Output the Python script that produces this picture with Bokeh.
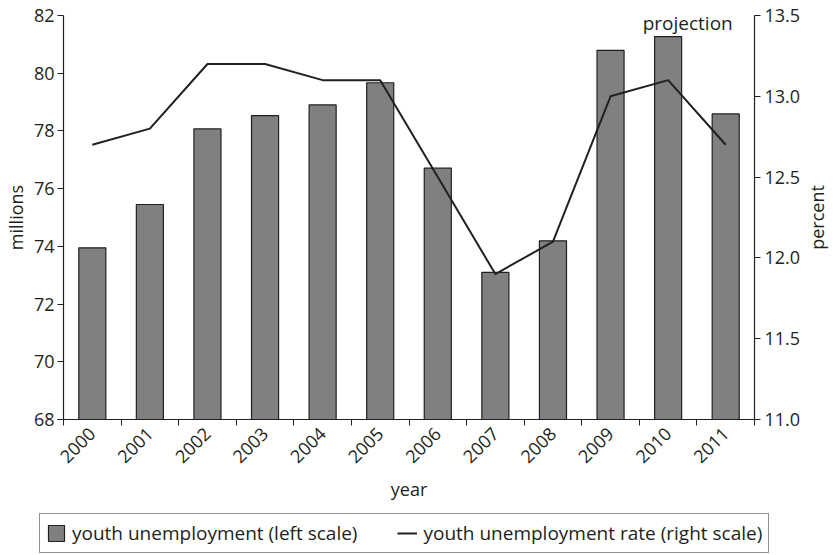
import numpy as np
from bokeh.plotting import figure
from bokeh.layouts import column, row
from bokeh.models import (Range1d, LinearAxis, FixedTicker, Legend, LegendItem,
                          Label, NumeralTickFormatter, ColumnDataSource)
from bokeh.embed import file_html
from bokeh.resources import INLINE

years = ["2000", "2001", "2002", "2003", "2004", "2005",
         "2006", "2007", "2008", "2009", "2010", "2011"]
youth_unemployment_millions = [73.95, 75.45, 78.07, 78.53, 78.9, 79.67,
                               76.71, 73.1, 74.19, 80.79, 81.27, 78.59]
youth_unemployment_rate_pct = [12.7, 12.8, 13.2, 13.2, 13.1, 13.1,
                               12.5, 11.9, 12.1, 13.0, 13.1, 12.7]
left_ticks = [68, 70, 72, 74, 76, 78, 80, 82]
right_ticks = [11.0, 11.5, 12.0, 12.5, 13.0, 13.5]

FONT = "Open Sans"
INK = "#231f20"
BAR = "#808080"
FS = "18px"
FS_BIG = "19px"

n = len(years)
centers = np.arange(n) + 0.5
src = ColumnDataSource(dict(x=centers, millions=youth_unemployment_millions,
                            rate=youth_unemployment_rate_pct, year=years))

y_left = Range1d(left_ticks[0], left_ticks[-1])

# ---------------- main chart ----------------
p = figure(frame_width=691, frame_height=404, output_backend="svg", toolbar_location=None,
           x_range=Range1d(0, n), y_range=y_left,
           min_border_left=62, min_border_right=48, min_border_top=15,
           min_border_bottom=94)
p.outline_line_color = None
p.xgrid.visible = False
p.ygrid.visible = False
p.background_fill_color = "white"
p.border_fill_color = "white"

p.extra_y_ranges = {"pct": Range1d(right_ticks[0], right_ticks[-1])}

bars = p.vbar(x="x", top="millions", bottom=left_ticks[0], width=0.47, source=src,
              fill_color=BAR, line_color=INK, line_width=1.2)
line = p.line(x="x", y="rate", source=src, y_range_name="pct",
              line_color=INK, line_width=2)

# x axis: labels at centers, tick marks at category boundaries
xax = p.xaxis[0]
xax.ticker = FixedTicker(ticks=list(centers), minor_ticks=list(range(n + 1)))
xax.major_label_overrides = {float(c): y for c, y in zip(centers, years)}
xax.major_tick_out = 0
xax.major_tick_in = 0
xax.minor_tick_out = 6
xax.minor_tick_in = 0
xax.major_label_orientation = np.pi / 4
xax.axis_label = "year"

# left axis
yax = p.yaxis[0]
yax.ticker = FixedTicker(ticks=left_ticks)
yax.major_tick_out = 6
yax.major_tick_in = 0
yax.minor_tick_out = 0
yax.minor_tick_in = 0
yax.axis_label = "millions"
yax.major_label_standoff = 3
yax.axis_label_standoff = 3

# right axis (its title is drawn in the narrow strip to the right)
rax = LinearAxis(y_range_name="pct", ticker=FixedTicker(ticks=right_ticks),
                 formatter=NumeralTickFormatter(format="0.0"))
rax.major_tick_out = 6
rax.major_tick_in = 0
rax.minor_tick_out = 0
rax.minor_tick_in = 0
rax.major_label_standoff = 4
p.add_layout(rax, "right")

for ax in (xax, yax, rax):
    ax.axis_line_color = INK
    ax.axis_line_width = 1.2
    ax.major_tick_line_color = INK
    ax.minor_tick_line_color = INK
    ax.major_label_text_font = FONT
    ax.major_label_text_font_size = FS
    ax.major_label_text_color = INK
    ax.axis_label_text_font = FONT
    ax.axis_label_text_font_size = FS
    ax.axis_label_text_font_style = "normal"
    ax.axis_label_text_color = INK

p.add_layout(Label(x=centers[-1], y=left_ticks[-1], text="projection",
                   x_offset=7, y_offset=-7, text_align="right",
                   text_baseline="alphabetic", text_font=FONT,
                   text_font_size=FS_BIG, text_color=INK))

# ---------------- right title strip (same frame rows as the chart) ----------------
pr = figure(frame_width=32, frame_height=404, output_backend="svg", toolbar_location=None,
            x_axis_type=None, y_axis_type=None,
            min_border_left=0, min_border_right=0, min_border_top=15,
            min_border_bottom=94, x_range=Range1d(0, 1), y_range=y_left)
pr.outline_line_color = None
pr.xgrid.visible = False
pr.ygrid.visible = False
pr.add_layout(Label(x=0.42, y=(left_ticks[0] + left_ticks[-1]) / 2,
                    text="percent", angle=np.pi / 2, text_align="center",
                    text_baseline="middle", text_font=FONT, text_font_size=FS,
                    text_color=INK))

# ---------------- legend strip ----------------
pl = figure(width=833, height=42, output_backend="svg", toolbar_location=None,
            x_axis_type=None, y_axis_type=None, min_border=0,
            x_range=Range1d(0, 1), y_range=Range1d(0, 1))
pl.outline_line_color = None
pl.xgrid.visible = False
pl.ygrid.visible = False
# legend proxies: one item each, placed outside the visible range
proxy_bar = pl.vbar(x=[-5], top=[-5], bottom=[-6], width=0.5,
                    fill_color=BAR, line_color=INK, line_width=1.2)
proxy_line = pl.line(x=[-6, -5], y=[-6, -6], line_color=INK, line_width=2)

legend = Legend(items=[LegendItem(label="youth unemployment (left scale)", renderers=[proxy_bar]),
                       LegendItem(label="youth unemployment rate (right scale)", renderers=[proxy_line])],
                orientation="horizontal", location=(39, 2))
legend.border_line_color = INK
legend.border_line_width = 1.2
legend.label_text_font = FONT
legend.label_text_font_size = FS_BIG
legend.label_text_color = INK
legend.padding = 6
legend.margin = 0
legend.spacing = 40
legend.label_standoff = 6
legend.glyph_width = 20
legend.glyph_height = 20
legend.background_fill_alpha = 1
pl.add_layout(legend)

layout = column(row(p, pr), pl)
open("out.html", "w").write(file_html(layout, INLINE))
